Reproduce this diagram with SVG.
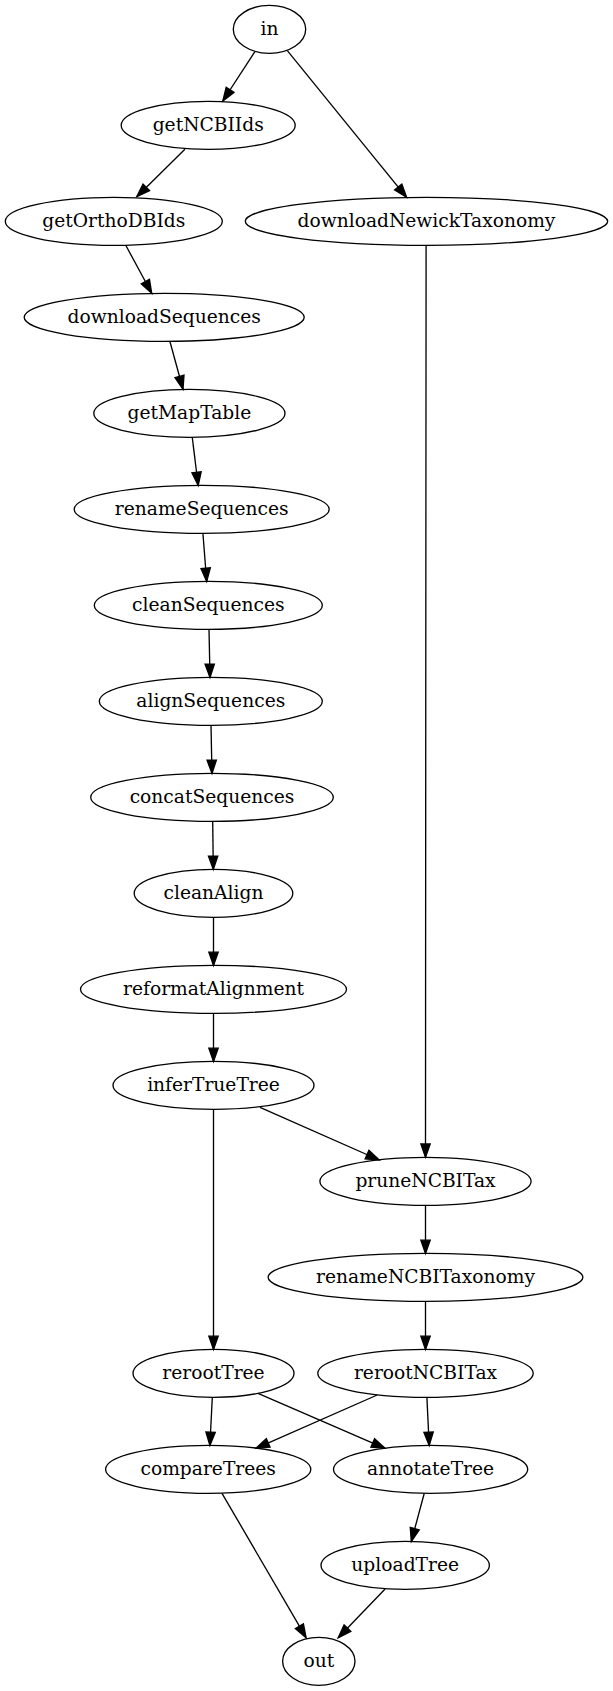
<svg xmlns="http://www.w3.org/2000/svg" width="613" height="1691" viewBox="0 0 613 1691">
<style>
.n ellipse{fill:none;stroke:#000;stroke-width:1.33}
.n text{font-family:"DejaVu Serif","Liberation Serif",serif;font-size:18.67px;text-anchor:middle;fill:#000}
#edges path{fill:none;stroke:#000;stroke-width:1.33;marker-end:url(#ah)}
</style>
<defs>
<marker id="ah" markerUnits="userSpaceOnUse" viewBox="0 0 13.33 9.33" markerWidth="13.33" markerHeight="9.33" refX="13.33" refY="4.67" orient="auto" overflow="visible">
<path d="M0,0 L13.33,4.67 L0,9.33 z" fill="#000" stroke="#000" stroke-width="1.33"/>
</marker>
</defs>
<rect width="613" height="1691" fill="#fff"/>
<g id="edges">
<path d="M254.9,51.7 L222.8,101"/>
<path d="M287.3,50.7 L406.6,197.3"/>
<path d="M184.9,149.3 L136.8,196.7"/>
<path d="M125.9,245.5 L151.7,293.3"/>
<path d="M426.1,245.3 C426,500 425.5,900 425.5,1157.3"/>
<path d="M170,341.7 L183,389.3"/>
<path d="M192.3,437.7 L198.2,485.5"/>
<path d="M202.9,533.3 L206.7,581.5"/>
<path d="M209,629.3 L210,677.5"/>
<path d="M211,725.3 L212,773.5"/>
<path d="M212.7,821.3 L213.3,869.5"/>
<path d="M213.5,917.3 L213.5,965.5"/>
<path d="M213.5,1013.3 L213.5,1061.5"/>
<path d="M260,1107.3 L379.2,1160"/>
<path d="M213.5,1109.3 L213.5,1349.5"/>
<path d="M425.5,1205.3 L425.5,1253.5"/>
<path d="M425.5,1301.3 L425.5,1349.5"/>
<path d="M212.3,1397.3 L209.9,1445.5"/>
<path d="M258,1393.3 L385,1448.3"/>
<path d="M377.2,1395 L256,1448.3"/>
<path d="M426.9,1397.3 L429.2,1445.5"/>
<path d="M222,1493.3 L306.1,1637.7"/>
<path d="M424.2,1493.5 L411.3,1541.5"/>
<path d="M385.1,1589 L338.2,1637.7"/>
</g>
<g id="in" class="n"><ellipse cx="269.5" cy="29.33" rx="36.2" ry="24"/><text x="269.5" y="34.93">in</text></g>
<g id="getNCBIIds" class="n"><ellipse cx="208.2" cy="125.33" rx="87" ry="24"/><text x="208.2" y="130.93">getNCBIIds</text></g>
<g id="getOrthoDBIds" class="n"><ellipse cx="113.8" cy="221.33" rx="108.5" ry="24"/><text x="113.8" y="226.93">getOrthoDBIds</text></g>
<g id="downloadNewickTaxonomy" class="n"><ellipse cx="426.5" cy="221.33" rx="181.2" ry="24"/><text x="426.5" y="226.93">downloadNewickTaxonomy</text></g>
<g id="downloadSequences" class="n"><ellipse cx="164.2" cy="317.33" rx="140" ry="24"/><text x="164.2" y="322.93">downloadSequences</text></g>
<g id="getMapTable" class="n"><ellipse cx="189.4" cy="413.33" rx="95.6" ry="24"/><text x="189.4" y="418.93">getMapTable</text></g>
<g id="renameSequences" class="n"><ellipse cx="201.7" cy="509.33" rx="127.5" ry="24"/><text x="201.7" y="514.93">renameSequences</text></g>
<g id="cleanSequences" class="n"><ellipse cx="208.3" cy="605.33" rx="114" ry="24"/><text x="208.3" y="610.93">cleanSequences</text></g>
<g id="alignSequences" class="n"><ellipse cx="210.8" cy="701.33" rx="111.5" ry="24"/><text x="210.8" y="706.93">alignSequences</text></g>
<g id="concatSequences" class="n"><ellipse cx="212" cy="797.33" rx="121.3" ry="24"/><text x="212" y="802.93">concatSequences</text></g>
<g id="cleanAlign" class="n"><ellipse cx="213.5" cy="893.33" rx="79.3" ry="24"/><text x="213.5" y="898.93">cleanAlign</text></g>
<g id="reformatAlignment" class="n"><ellipse cx="213.5" cy="989.33" rx="133" ry="24"/><text x="213.5" y="994.93">reformatAlignment</text></g>
<g id="inferTrueTree" class="n"><ellipse cx="213.5" cy="1085.33" rx="100.5" ry="24"/><text x="213.5" y="1090.93">inferTrueTree</text></g>
<g id="pruneNCBITax" class="n"><ellipse cx="425.5" cy="1181.33" rx="105.6" ry="24"/><text x="425.5" y="1186.93">pruneNCBITax</text></g>
<g id="renameNCBITaxonomy" class="n"><ellipse cx="425.5" cy="1277.33" rx="157.4" ry="24"/><text x="425.5" y="1282.93">renameNCBITaxonomy</text></g>
<g id="rerootTree" class="n"><ellipse cx="213.5" cy="1373.33" rx="80.5" ry="24"/><text x="213.5" y="1378.93">rerootTree</text></g>
<g id="rerootNCBITax" class="n"><ellipse cx="425.5" cy="1373.33" rx="107.7" ry="24"/><text x="425.5" y="1378.93">rerootNCBITax</text></g>
<g id="compareTrees" class="n"><ellipse cx="208.2" cy="1469.33" rx="102.6" ry="24"/><text x="208.2" y="1474.93">compareTrees</text></g>
<g id="annotateTree" class="n"><ellipse cx="430.6" cy="1469.33" rx="97.1" ry="24"/><text x="430.6" y="1474.93">annotateTree</text></g>
<g id="uploadTree" class="n"><ellipse cx="405.2" cy="1565.33" rx="84.2" ry="24"/><text x="405.2" y="1570.93">uploadTree</text></g>
<g id="out" class="n"><ellipse cx="318.8" cy="1661.33" rx="36.2" ry="24"/><text x="318.8" y="1666.93">out</text></g>
</svg>
